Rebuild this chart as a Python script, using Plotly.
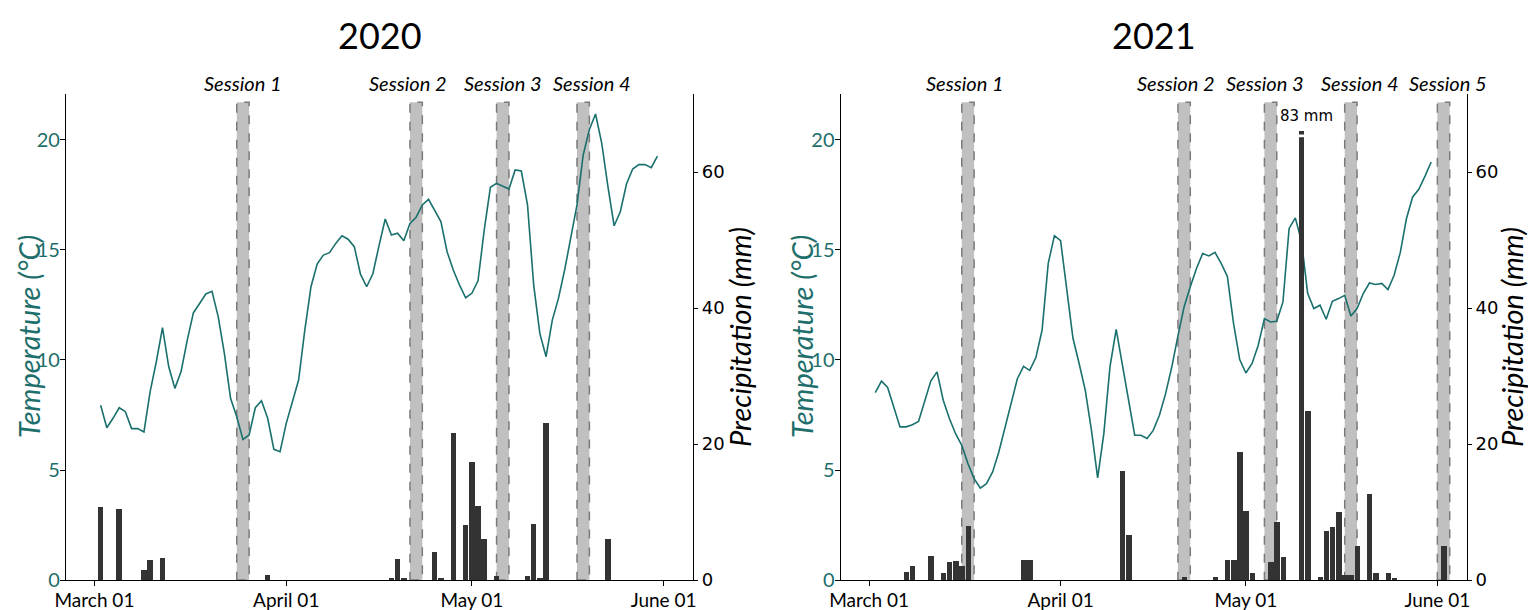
import pandas as pd
import plotly.graph_objects as go

# ---------------- data ----------------
years = [2020, 2021]

temp_2020 = [7.94, 6.92, 7.35, 7.83, 7.65, 6.88, 6.88, 6.73, 8.56, 9.92,
             11.47, 9.7, 8.71, 9.47, 10.9, 12.15, 12.57, 13.0, 13.12, 11.97,
             10.3, 8.26, 7.42, 6.39, 6.59, 7.83, 8.15, 7.35, 5.94, 5.83,
             7.12, 8.1, 9.09, 11.36, 13.33, 14.36, 14.77, 14.88, 15.3, 15.65,
             15.49, 15.15, 13.9, 13.33, 13.92, 15.2, 16.41, 15.68, 15.76, 15.42,
             16.21, 16.49, 17.05, 17.3, 16.82, 16.29, 14.92, 14.09, 13.41, 12.83,
             13.03, 13.6, 15.9, 17.85, 18.03, 17.9, 17.77, 18.64, 18.59, 17.05,
             13.4, 11.2, 10.15, 11.8, 12.8, 14.09, 15.6, 17.05, 19.32, 20.48,
             21.18, 19.85, 17.88, 16.1, 16.74, 18.0, 18.68, 18.88, 18.88, 18.74, 19.27]

temp_2021 = [8.52, 9.04, 8.75, 7.9, 6.96, 6.96, 7.06, 7.21, 8.09, 9.05,
             9.46, 8.17, 7.34, 6.65, 6.12, 5.29, 4.61, 4.18, 4.38, 4.91,
             5.82, 6.96, 8.09, 9.15, 9.71, 9.53, 10.11, 11.35, 14.39, 15.65,
             15.42, 13.18, 11.0, 9.84, 8.62, 6.8, 4.64, 6.65, 9.7, 11.39,
             9.84, 8.32, 6.58, 6.58, 6.43, 6.8, 7.49, 8.47, 9.68, 11.1,
             12.42, 13.33, 14.16, 14.84, 14.73, 14.89, 14.39, 13.8, 11.66, 10.02,
             9.41, 9.84, 10.67, 11.88, 11.73, 11.76, 12.64, 15.98, 16.46, 15.4,
             13.03, 12.34, 12.49, 11.85, 12.67, 12.79, 12.94, 12.0, 12.34, 13.02,
             13.5, 13.43, 13.48, 13.2, 13.85, 14.89, 16.43, 17.41, 17.76, 18.36, 19.0]

temp_start = {2020: "2020-03-02", 2021: "2021-03-02"}

precip_dates_2020 = ["2020-03-02", "2020-03-05", "2020-03-09", "2020-03-10", "2020-03-12",
                     "2020-03-29", "2020-04-18", "2020-04-19", "2020-04-20", "2020-04-25",
                     "2020-04-26", "2020-04-28", "2020-04-30", "2020-05-01", "2020-05-02",
                     "2020-05-03", "2020-05-05", "2020-05-10", "2020-05-11", "2020-05-12",
                     "2020-05-13", "2020-05-23"]
precip_mm_2020 = [10.7, 10.5, 1.4, 2.9, 3.3,
                  0.7, 0.35, 3.1, 0.35, 4.1,
                  0.35, 21.6, 8.1, 17.3, 10.9,
                  6.1, 0.55, 0.55, 8.3, 0.35,
                  23.1, 6.1]

precip_dates_2021 = ["2021-03-07", "2021-03-08", "2021-03-11", "2021-03-13", "2021-03-14",
                     "2021-03-15", "2021-03-16", "2021-03-17", "2021-03-26", "2021-03-27",
                     "2021-04-11", "2021-04-12", "2021-04-21", "2021-04-26", "2021-04-28",
                     "2021-04-29", "2021-04-30", "2021-05-01", "2021-05-02", "2021-05-05",
                     "2021-05-06", "2021-05-07", "2021-05-10", "2021-05-11", "2021-05-13",
                     "2021-05-14", "2021-05-15", "2021-05-16", "2021-05-17", "2021-05-18",
                     "2021-05-19", "2021-05-21", "2021-05-22", "2021-05-24", "2021-05-25",
                     "2021-06-02"]
precip_mm_2021 = [1.2, 2.0, 3.6, 1.0, 2.6,
                  2.85, 2.0, 7.9, 3.0, 3.0,
                  16.1, 6.6, 0.45, 0.45, 2.9,
                  3.0, 18.8, 10.1, 1.1, 2.65,
                  8.6, 3.4, 83.0, 24.8, 0.45,
                  7.2, 7.8, 10.0, 0.7, 0.8,
                  5.05, 12.6, 1.1, 1.1, 0.3,
                  5.05]

session_names_2020 = ["Session 1", "Session 2", "Session 3", "Session 4"]
session_start_2020 = ["2020-03-24", "2020-04-21", "2020-05-05", "2020-05-18"]
session_end_2020 = ["2020-03-26", "2020-04-23", "2020-05-07", "2020-05-20"]

session_names_2021 = ["Session 1", "Session 2", "Session 3", "Session 4", "Session 5"]
session_start_2021 = ["2021-03-16", "2021-04-20", "2021-05-04", "2021-05-17", "2021-06-01"]
session_end_2021 = ["2021-03-18", "2021-04-22", "2021-05-06", "2021-05-19", "2021-06-03"]

month_ticks = ["03-01", "04-01", "05-01", "06-01"]
temp_ticks = [0, 5, 10, 15, 20]
precip_ticks = [0, 20, 40, 60]

# ---------------- style / layout ----------------
W, H = 1528, 610
TOP, BOTTOM = 94, 30
TEAL = "#19706d"
TEAL_TXT = "#1e6e6b"
BAR = "#333333"
BASE = "Lato, 'Open Sans', sans-serif"
DEJAVU = "'DejaVu Sans', sans-serif"
TEMP_MAX = 22.09
PRECIP_MAX = 71.5
PRECIP_CAP = 66.0

x_dom = {2020: [66 / W, 693 / W], 2021: [840.7 / W, 1466.7 / W]}
ytitle_left_px = {2020: 28, 2021: 801}
ytitle_right_px = {2020: 739, 2021: 1511}
label_shift = {2020: [0, -8, 0, 9], 2021: [-3, -8, -6, 9, 4]}

data = {
    2020: dict(temp=temp_2020, pd_=precip_dates_2020, pm=precip_mm_2020,
               sn=session_names_2020, ss=session_start_2020, se=session_end_2020),
    2021: dict(temp=temp_2021, pd_=precip_dates_2021, pm=precip_mm_2021,
               sn=session_names_2021, ss=session_start_2021, se=session_end_2021),
}

fig = go.Figure()
shapes, annotations = [], []
layout = {}
day_ms = 86400000

for i, yr in enumerate(years):
    d = data[yr]
    xa = "x" if i == 0 else "x2"
    ya_t = "y" if i == 0 else "y3"
    ya_p = "y2" if i == 0 else "y4"
    xkey = "xaxis" if i == 0 else "xaxis2"
    ytkey = "yaxis" if i == 0 else "yaxis3"
    ypkey = "yaxis2" if i == 0 else "yaxis4"

    tdates = pd.date_range(temp_start[yr], periods=len(d["temp"]), freq="D")
    fig.add_trace(go.Scatter(x=tdates, y=d["temp"], mode="lines",
                             line=dict(color=TEAL, width=1.6),
                             xaxis=xa, yaxis=ya_t, showlegend=False))
    shown = [min(v, PRECIP_CAP) for v in d["pm"]]
    fig.add_trace(go.Bar(x=pd.to_datetime(d["pd_"]), y=shown, width=0.88 * day_ms,
                         marker=dict(color=BAR, line=dict(width=0)),
                         xaxis=xa, yaxis=ya_p, showlegend=False))

    # clipped (broken) bars
    for dt, v in zip(d["pd_"], d["pm"]):
        if v > PRECIP_CAP:
            t = pd.Timestamp(dt)
            shapes.append(dict(type="line", xref=xa, yref=ya_p,
                               x0=t - pd.Timedelta(hours=14), x1=t + pd.Timedelta(hours=14),
                               y0=PRECIP_CAP - 0.65, y1=PRECIP_CAP - 0.65,
                               line=dict(color="white", width=2.8), layer="above"))
            annotations.append(dict(x=t + pd.Timedelta(hours=20), y=PRECIP_CAP + 0.7,
                                    xref=xa, yref=ya_p, text=f"{v:.0f} mm",
                                    showarrow=False, yanchor="bottom",
                                    font=dict(family=DEJAVU, size=15, color="black")))

    # sessions
    for name, s, e, sh in zip(d["sn"], d["ss"], d["se"], label_shift[yr]):
        s_t, e_t = pd.Timestamp(s), pd.Timestamp(e)
        shapes.append(dict(type="rect", xref=xa, yref=f"{ya_t} domain",
                           x0=s_t, x1=e_t, y0=0, y1=0.983,
                           fillcolor="#c0c0c0",
                           line=dict(color="#7a7a7a", width=1.5, dash="dash"),
                           layer="below"))
        annotations.append(dict(x=s_t + (e_t - s_t) / 2, y=1, xref=xa,
                                yref=f"{ya_t} domain", yshift=11, xshift=sh,
                                yanchor="middle",
                                text=f"<i>{name}</i>", showarrow=False,
                                font=dict(family=BASE, size=20, color="black")))

    # title
    annotations.append(dict(x=0.5, y=1, xref=f"{xa} domain", yref=f"{ya_t} domain",
                            yshift=59, yanchor="middle", text=str(yr), showarrow=False,
                            font=dict(family=BASE, size=36, color="black")))
    # axis titles
    annotations.append(dict(x=ytitle_left_px[yr] / W, y=0.5, xref="paper", yref="paper",
                            text="<i>Temperature (°C)</i>", textangle=-90, showarrow=False,
                            xanchor="center", yanchor="middle",
                            font=dict(family=BASE, size=29, color=TEAL_TXT)))
    annotations.append(dict(x=ytitle_right_px[yr] / W, y=0.5, xref="paper", yref="paper",
                            text="<i>Precipitation (mm)</i>", textangle=-90, showarrow=False,
                            xanchor="center", yanchor="middle",
                            font=dict(family=BASE, size=29, color="black")))

    start = pd.Timestamp(f"{yr}-03-01")
    tickvals = [pd.Timestamp(f"{yr}-{m}") for m in month_ticks]
    layout[xkey] = dict(domain=x_dom[yr], anchor=ya_t, type="date", automargin=False,
                        range=[start - pd.Timedelta(days=4.6), start + pd.Timedelta(days=96.75)],
                        tickvals=tickvals, ticktext=[t.strftime("%B %d") for t in tickvals],
                        ticks="outside", ticklen=5, tickwidth=1.2, tickcolor="black",
                        ticklabelstandoff=-2,
                        showline=True, linecolor="black", linewidth=1.3,
                        showgrid=False, zeroline=False,
                        tickfont=dict(family=BASE, size=19, color="black"))
    layout[ytkey] = dict(domain=[0, 1], anchor=xa, range=[0, TEMP_MAX], automargin=False,
                         tickvals=temp_ticks, ticks="outside", ticklen=5, tickwidth=1.2,
                         ticklabelstandoff=-4,
                         tickcolor="black", showline=True, linecolor="black", linewidth=1.3,
                         showgrid=False, zeroline=False,
                         tickfont=dict(family=BASE, size=20, color=TEAL_TXT))
    layout[ypkey] = dict(anchor=xa, overlaying=ya_t, side="right", range=[0, PRECIP_MAX],
                         automargin=False,
                         tickvals=precip_ticks, ticks="outside", ticklen=4, tickwidth=1.2,
                         tickcolor="black", showline=True, linecolor="black", linewidth=1.3,
                         showgrid=False, zeroline=False,
                         tickfont=dict(family=DEJAVU, size=18, color="black"))

fig.update_layout(width=W, height=H, margin=dict(l=0, r=0, t=TOP, b=BOTTOM, autoexpand=False),
                  paper_bgcolor="white", plot_bgcolor="white", bargap=0,
                  shapes=shapes, annotations=annotations, **layout)

# remove the page's default body margin so the figure sits at the window origin
fig.write_html("out.html", config={"displayModeBar": False},
               post_script="document.body.style.margin='0px';document.body.style.overflow='hidden';")
